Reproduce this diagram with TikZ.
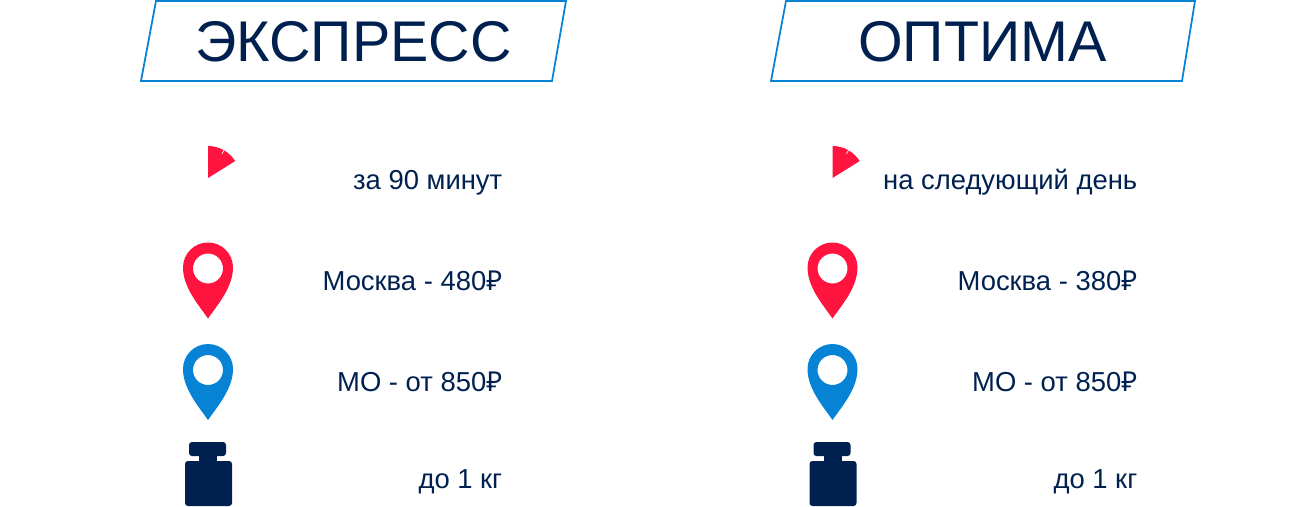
\documentclass[tikz,border=0pt]{standalone}
\usepackage{fontspec}
\setmainfont{Liberation Sans}
\newfontfamily\rublefont{Noto Sans}
\newcommand{\rub}{{\rublefont\fontsize{23.4}{26}\selectfont ₽}}
\definecolor{navy}{HTML}{00214F}
\definecolor{pinred}{HTML}{FF1440}
\definecolor{pinblue}{HTML}{0683D4}
\tikzset{
 titlebox/.style={draw=pinblue, line width=1.5pt, fill=white},
 titletext/.style={text=navy, inner sep=0, anchor=base, font=\fontsize{49}{50}\selectfont},
 rowtext/.style={text=navy, inner sep=0, anchor=base east, font=\fontsize{23.4}{26}\selectfont},
 mappin/.pic={
  \fill[pic actions, even odd rule] (0,-51) .. controls (9,-38) and (25,-20) .. (25,0) arc (0:180:25) .. controls (-25,-20) and (-9,-38) .. cycle (0,-1) circle (15);
 },
 timer/.pic={
  \fill[pinred] (0,0) -- (32:32) arc (32:90:32) -- cycle;
  \draw[white, line width=.6pt] (60:32) -- (60:28);
 },
 weight/.pic={
  \fill[navy, rounded corners=2.5pt] (-19,-14) rectangle (18,0);
  \fill[navy] (-9,-20) rectangle (9,-13);
  \fill[navy, rounded corners=2.5pt] (-23,-64) rectangle (24,-19);
 }
}
\begin{document}
\begin{tikzpicture}[x=.03cm, y=.03cm]
\useasboundingbox (0,0) rectangle (1306,-507);
% left column
\draw[titlebox] (141,-81) -- (156,-1) -- (566,-1) -- (552,-81) -- cycle;
\node[titletext] (expresstitle) at (353.5,-62) {ЭКСПРЕСС};
\node[rowtext] (expresstime) at (502.5,-189) {за 90 минут};
\node[rowtext] (expresscity) at (502.5,-290) {Москва - 480\rub};
\node[rowtext] (expressregion) at (502.5,-391) {МО - от 850\rub};
\node[rowtext] (expressmass) at (502.5,-488) {до 1 кг};
% right column
\draw[titlebox] (771,-81) -- (786,-1) -- (1195,-1) -- (1182,-81) -- cycle;
\node[titletext] (optimatitle) at (982.5,-62) {ОПТИМА};
\node[rowtext] (optimatime) at (1137.5,-189) {на следующий день};
\node[rowtext] (optimacity) at (1137.5,-290) {Москва - 380\rub};
\node[rowtext] (optimaregion) at (1137.5,-391) {МО - от 850\rub};
\node[rowtext] (optimamass) at (1137.5,-488) {до 1 кг};
% icons
\foreach \x in {208, 832.5} {
 \pic at (\x,-178) {timer};
 \pic[fill=pinred] at (\x,-267.5) {mappin};
 \pic[fill=pinblue] at (\x,-369) {mappin};
 \pic at (\x,-442) {weight};
}
\end{tikzpicture}
\end{document}
